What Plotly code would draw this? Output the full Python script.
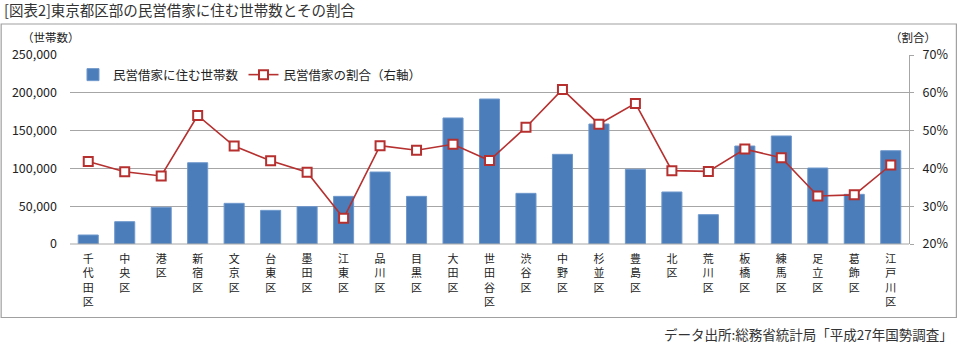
import plotly.graph_objects as go

categories = ["千代田区", "中央区", "港区", "新宿区", "文京区", "台東区", "墨田区", "江東区",
              "品川区", "目黒区", "大田区", "世田谷区", "渋谷区", "中野区", "杉並区", "豊島区",
              "北区", "荒川区", "板橋区", "練馬区", "足立区", "葛飾区", "江戸川区"]
households = [11900, 29500, 48500, 107500, 53800, 44500, 49400, 63000,
              95200, 63000, 166700, 191800, 67000, 118600, 158700, 98800,
              68800, 38800, 129600, 142900, 100500, 65700, 123400]
ratio = [41.8, 39.1, 38.0, 54.0, 45.9, 42.0, 39.0, 26.8,
         46.0, 44.8, 46.4, 42.1, 50.9, 60.9, 51.7, 57.2,
         39.4, 39.2, 45.1, 42.8, 32.7, 33.0, 40.9]
left_ticks = [0, 50000, 100000, 150000, 200000, 250000]
right_ticks = [20, 30, 40, 50, 60, 70]
right_tick_labels = ["20%", "30%", "40%", "50%", "60%", "70%"]

W, H = 960, 344
ML, MR, MT, MB = 70, 49, 55, 100
PW, PH = W - ML - MR, H - MT - MB


def px(x):
    return (x - ML) / PW


def py(y):
    return (H - MB - y) / PH


tick_text = ["<br>".join(list(c)) for c in categories]
FONT = "Noto Sans CJK JP, Noto Sans, sans-serif"

fig = go.Figure()
fig.add_trace(go.Bar(
    x=categories, y=households, name="民営借家に住む世帯数",
    marker=dict(color="#4A7DBA", line=dict(color="#6F98CC", width=1)),
    yaxis="y",
))
fig.add_trace(go.Scatter(
    x=categories, y=ratio, name="民営借家の割合（右軸）", yaxis="y2",
    mode="lines+markers",
    line=dict(color="#B5302F", width=1.6),
    marker=dict(symbol="square", size=9, color="white", line=dict(color="#B5302F", width=2)),
))

fig.update_layout(
    width=W, height=H,
    margin=dict(l=ML, r=MR, t=MT, b=MB, pad=0),
    paper_bgcolor="white", plot_bgcolor="white",
    font=dict(family=FONT, size=12, color="#222"),
    bargap=0.45,
    showlegend=True,
    legend=dict(orientation="h", x=px(73), y=py(75), xanchor="left", yanchor="middle",
                font=dict(size=12.5, color="#222"), bgcolor="rgba(0,0,0,0)",
                itemwidth=30, tracegroupgap=0),
    xaxis=dict(
        type="category", range=[-0.5, len(categories) - 0.5], autorange=False,
        tickmode="array", tickvals=categories, ticktext=tick_text,
        tickfont=dict(size=11, color="#222"), showgrid=False, showline=False,
        ticks="", ticklen=0, tickangle=0, ticklabelstandoff=7,
    ),
    yaxis=dict(
        range=[0, 250000], tickvals=left_ticks, tickformat=",d",
        showgrid=True, gridcolor="#A6A6A6", gridwidth=1, zeroline=False,
        showline=False, ticks="", tickfont=dict(size=12.5, color="#222"),
        ticklabelstandoff=12,
    ),
    yaxis2=dict(
        range=[20, 70], tickmode="array", tickvals=right_ticks, ticktext=right_tick_labels,
        overlaying="y", side="right",
        showgrid=False, zeroline=False, showline=True, linecolor="#A6A6A6", linewidth=1,
        ticks="outside", ticklen=4, tickcolor="#A6A6A6", tickfont=dict(size=12.5, color="#222"),
        ticklabelstandoff=6,
    ),
)

# baseline
fig.add_shape(type="line", xref="paper", yref="paper", x0=0, x1=1, y0=0, y1=0,
              line=dict(color="#A6A6A6", width=1), layer="above")
# outer frame
fig.add_shape(type="rect", xref="paper", yref="paper",
              x0=px(1), x1=px(958.5), y0=py(24), y1=py(317.5),
              line=dict(color="#A0A0A0", width=1.2), layer="below")

ann = dict(xref="paper", yref="paper", showarrow=False)
fig.add_annotation(text="[図表2]東京都区部の民営借家に住む世帯数とその割合", x=px(2), y=py(10),
                   xanchor="left", yanchor="middle", font=dict(size=14.5, color="#333"), **ann)
fig.add_annotation(text="（世帯数）", x=px(51), y=py(37), xanchor="center", yanchor="middle",
                   font=dict(size=11.5, color="#222"), **ann)
fig.add_annotation(text="（割合）", x=px(915), y=py(37), xanchor="center", yanchor="middle",
                   font=dict(size=11.5, color="#222"), **ann)
fig.add_annotation(text="データ出所:総務省統計局「平成27年国勢調査」", x=px(957), y=py(334),
                   xanchor="right", yanchor="middle", font=dict(size=13.5, color="#333"), **ann)

fig.write_html("out.html")
